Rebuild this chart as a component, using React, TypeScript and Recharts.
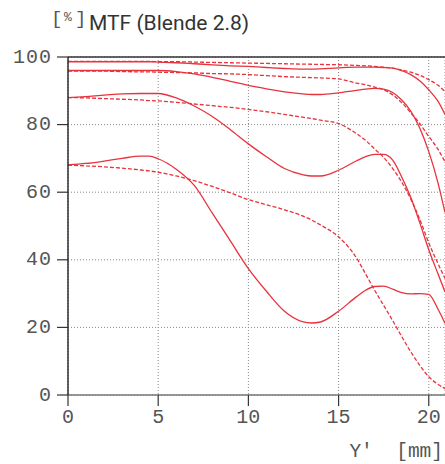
import { CartesianGrid, Line, LineChart, ReferenceLine, XAxis, YAxis } from "recharts";

// image height Y' in mm
const positions = [
	0, 1, 2, 3, 4, 4.5, 5, 6, 7, 8, 9, 10, 11, 12, 13, 13.5, 14, 15, 16, 16.5, 17,
	17.5, 18, 18.5, 19, 19.5, 20, 20.5, 20.9,
];

// solid = radial, dashed = tangential, four spatial frequencies
const solid1 = [
	98.6, 98.6, 98.6, 98.6, 98.6, 98.6, 98.5, 98.3, 98.0, 97.7, 97.4, 97.2, 96.9,
	96.6, 96.4, 96.4, 96.5, 96.8, 97.0, 97.0, 97.0, 96.9, 96.7, 96.0, 94.8, 93.0,
	90.3, 87.0, 83.0,
];
const dashed1 = [
	98.7, 98.7, 98.7, 98.7, 98.7, 98.7, 98.6, 98.6, 98.5, 98.4, 98.3, 98.2, 98.1,
	98.0, 97.9, 97.85, 97.8, 97.7, 97.5, 97.4, 97.2, 97.0, 96.7, 96.2, 95.5, 94.6,
	93.3, 91.7, 89.8,
];
const solid2 = [
	96.0, 96.0, 96.0, 96.0, 96.0, 96.0, 96.0, 95.7, 95.0, 94.0, 92.8, 91.6, 90.6,
	89.7, 89.1, 88.9, 88.9, 89.4, 90.1, 90.5, 90.7, 90.5, 89.5, 87.3, 84.0, 79.0,
	72.0, 63.0, 54.0,
];
const dashed2 = [
	95.8, 95.8, 95.8, 95.7, 95.6, 95.6, 95.5, 95.4, 95.3, 95.1, 95.0, 94.8, 94.5,
	94.2, 94.0, 93.9, 93.8, 93.5, 92.3, 91.8, 91.1, 90.3, 88.8, 86.5, 83.5, 80.3,
	76.5, 72.8, 69.0,
];
const solid3 = [
	88.0, 88.3, 88.7, 89.1, 89.2, 89.2, 89.2, 87.9, 85.5, 82.4, 78.5, 74.3, 70.5,
	67.0, 65.2, 64.8, 64.8, 66.5, 69.3, 70.5, 71.2, 71.2, 69.5, 64.5, 58.5, 51.0,
	43.0, 36.0, 30.5,
];
const dashed3 = [
	88.0, 87.9, 87.7, 87.5, 87.3, 87.1, 87.0, 86.6, 86.1, 85.6, 85.1, 84.5, 83.8,
	83.0, 82.2, 81.8, 81.3, 80.3, 77.3, 75.3, 72.8, 70.3, 67.0, 63.0, 58.0, 52.0,
	45.0, 39.0, 34.5,
];
const solid4 = [
	68.1, 68.5, 69.2, 70.0, 70.7, 70.7, 69.9, 66.8, 62.0, 53.8, 45.6, 37.4, 30.7,
	24.8, 21.7, 21.3, 21.6, 24.8, 29.1, 31.0, 32.1, 32.2, 31.3, 30.3, 29.9, 30.0,
	29.8, 25.5, 21.2,
];
const dashed4 = [
	68.0, 67.8, 67.5, 67.1, 66.6, 66.3, 65.9, 64.8, 63.4, 61.7, 59.8, 57.8, 56.3,
	54.8, 53.0, 51.8, 50.3, 46.8, 40.5, 35.8, 31.0, 26.5, 22.0, 17.3, 12.8, 8.8,
	5.4, 3.2, 1.9,
];

const xTicks = [0, 5, 10, 15, 20];
const yTicks = [0, 20, 40, 60, 80, 100];

const series = [
	{ key: "s1", values: solid1, dashed: false },
	{ key: "d1", values: dashed1, dashed: true },
	{ key: "s2", values: solid2, dashed: false },
	{ key: "d2", values: dashed2, dashed: true },
	{ key: "s3", values: solid3, dashed: false },
	{ key: "d3", values: dashed3, dashed: true },
	{ key: "s4", values: solid4, dashed: false },
	{ key: "d4", values: dashed4, dashed: true },
];

const rows = positions.map((y, i) => {
	const row: Record<string, number> = { y };
	for (const s of series) row[s.key] = s.values[i];
	return row;
});

const RED = "#e8323c";
const MONO = "'Liberation Mono', monospace";

const YTick = ({ x, y, payload }: any) => (
	<g>
		<line x1={x - 11} x2={x} y1={y} y2={y} stroke="#333" strokeWidth={1.2} />
		<text
			x={x - 16}
			y={y}
			textAnchor="end"
			dominantBaseline="central"
			fontFamily={MONO}
			fontSize={20}
			letterSpacing={1}
			fill="#555"
		>
			{payload.value}
		</text>
	</g>
);

const XTick = ({ x, y, payload }: any) => (
	<g>
		<line x1={x} x2={x} y1={y} y2={y + 11} stroke="#333" strokeWidth={1.2} />
		<text
			x={x}
			y={y + 22}
			textAnchor="middle"
			dominantBaseline="central"
			fontFamily={MONO}
			fontSize={20}
			fill="#555"
		>
			{payload.value}
		</text>
	</g>
);

export default function App() {
	return (
		<div style={{ position: "absolute", left: 0, top: 0, background: "#fff" }}>
			<LineChart
				width={445}
				height={464}
				data={rows}
				margin={{ top: 57, right: 0, bottom: 39, left: 0 }}
			>
				<CartesianGrid stroke="#888" strokeDasharray="1 2" />
				<XAxis
					dataKey="y"
					type="number"
					domain={[0, 20.9]}
					ticks={xTicks}
					allowDataOverflow
					height={30}
					tickSize={0}
					tickMargin={0}
					tick={<XTick />}
					axisLine={{ stroke: "#777", strokeWidth: 1.4 }}
					tickLine={false}
					interval={0}
					label={{
						content: ({ viewBox }: any) => (
							<text
								x={viewBox.x + viewBox.width - 2}
								y={452}
								textAnchor="end"
								dominantBaseline="central"
								fontFamily={MONO}
								fontSize={19.5}
								fill="#555"
								style={{ whiteSpace: "pre" }}
							>
								{"Y'  [mm]"}
							</text>
						),
					}}
				/>
				<YAxis
					type="number"
					domain={[0, 100]}
					ticks={yTicks}
					width={68}
					tickSize={0}
					tickMargin={0}
					tick={<YTick />}
					axisLine={{ stroke: "#222", strokeWidth: 1.4 }}
					tickLine={false}
					interval={0}
				/>
				<ReferenceLine y={100} stroke="#333" strokeWidth={1.4} />
				{series.map((s) => (
					<Line
						key={s.key}
						dataKey={s.key}
						type="monotone"
						stroke={RED}
						strokeWidth={1.3}
						strokeDasharray={s.dashed ? "4 2" : undefined}
						dot={false}
						activeDot={false}
						isAnimationActive={false}
					/>
				))}
				<text x={51} y={24} fontFamily={MONO} fontSize={19} fill="#555">
					[
				</text>
				<text x={64} y={21} fontFamily={MONO} fontSize={13} fill="#555">
					%
				</text>
				<text x={75} y={24} fontFamily={MONO} fontSize={19} fill="#555">
					]
				</text>
				<text x={89} y={29.5} fontFamily="Roboto" fontSize={21} fill="#333">
					MTF (Blende 2.8)
				</text>
			</LineChart>
		</div>
	);
}
